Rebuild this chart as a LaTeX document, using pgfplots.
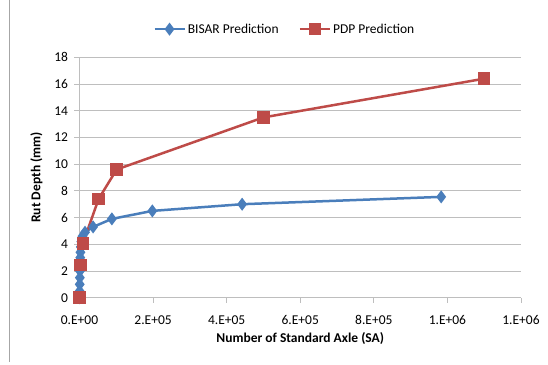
\documentclass[border=0pt]{standalone}
\usepackage{pgfplots}
\pgfplotsset{compat=1.18}
\usepackage{fontspec}
\setmainfont{Carlito}
\definecolor{bisar}{RGB}{74,126,187}
\definecolor{pdp}{RGB}{190,75,72}
\definecolor{gridc}{RGB}{190,190,190}
\begin{document}
\begin{tikzpicture}
\useasboundingbox (0pt,0pt) rectangle (548pt,-364pt);
\draw[gray!70, line width=0.8pt] (9.5pt,2pt) -- (9.5pt,-362pt);
\begin{axis}[
  at={(79.5pt,-297.7pt)}, anchor=south west,
  scale only axis, width=441.5pt, height=240.4pt,
  font=\fontsize{13.5}{16}\selectfont,
  /pgf/number format/assume math mode=true,
  xmin=0, xmax=1200000, ymin=0, ymax=18,
  xtick={0,200000,400000,600000,800000,1000000,1200000},
  xticklabels={0.E+00,2.E+05,4.E+05,6.E+05,8.E+05,1.E+06,1.E+06},
  scaled x ticks=false,
  ytick={0,2,...,18},
  axis x line*=bottom, axis y line*=left,
  axis line style={gridc, line width=0.8pt, -},
  tick style={gridc, line width=0.8pt},
  tick align=outside, major tick length=5pt,
  ymajorgrids, grid style={gridc, line width=0.8pt},
  xticklabel style={yshift=-9pt},
  yticklabel style={xshift=-3pt},
  xlabel={\textbf{Number of Standard Axle (SA)}},
  ylabel={\textbf{Rut Depth (mm)}},
  xlabel style={yshift=-1pt},
  ylabel style={yshift=5pt},
  legend columns=2,
  legend style={draw=none, at={(0.465,1.117)}, anchor=center, font=\fontsize{13.5}{16}\selectfont,
    /tikz/every even column/.append style={column sep=18pt}},
  legend image code/.code={
    \draw[#1] (0pt,0pt) -- (30pt,0pt);
    \draw[#1, only marks] plot coordinates {(15pt,0pt)};},
  clip=false,
]
\addplot[color=bisar, line width=2.5pt, mark=diamond*, mark size=4.5pt, mark options={solid}] coordinates {
(0,0) (300,0.5) (600,1.0) (900,1.5) (1200,2.0) (1500,2.5) (2000,3.0) (2500,3.4) (3500,3.8) (5000,4.2) (8000,4.6) (15000,4.9) (37000,5.3) (88000,5.9) (198000,6.5) (442000,7.0) (983000,7.55)
};
\addlegendentry{BISAR Prediction}
\addplot[color=pdp, line width=2.5pt, mark=square*, mark size=5pt, mark options={solid}] coordinates {
(0,0) (3000,2.45) (9000,4.05) (52000,7.4) (101000,9.6) (500000,13.5) (1100000,16.4)
};
\addlegendentry{PDP Prediction}
\end{axis}
\end{tikzpicture}
\end{document}
